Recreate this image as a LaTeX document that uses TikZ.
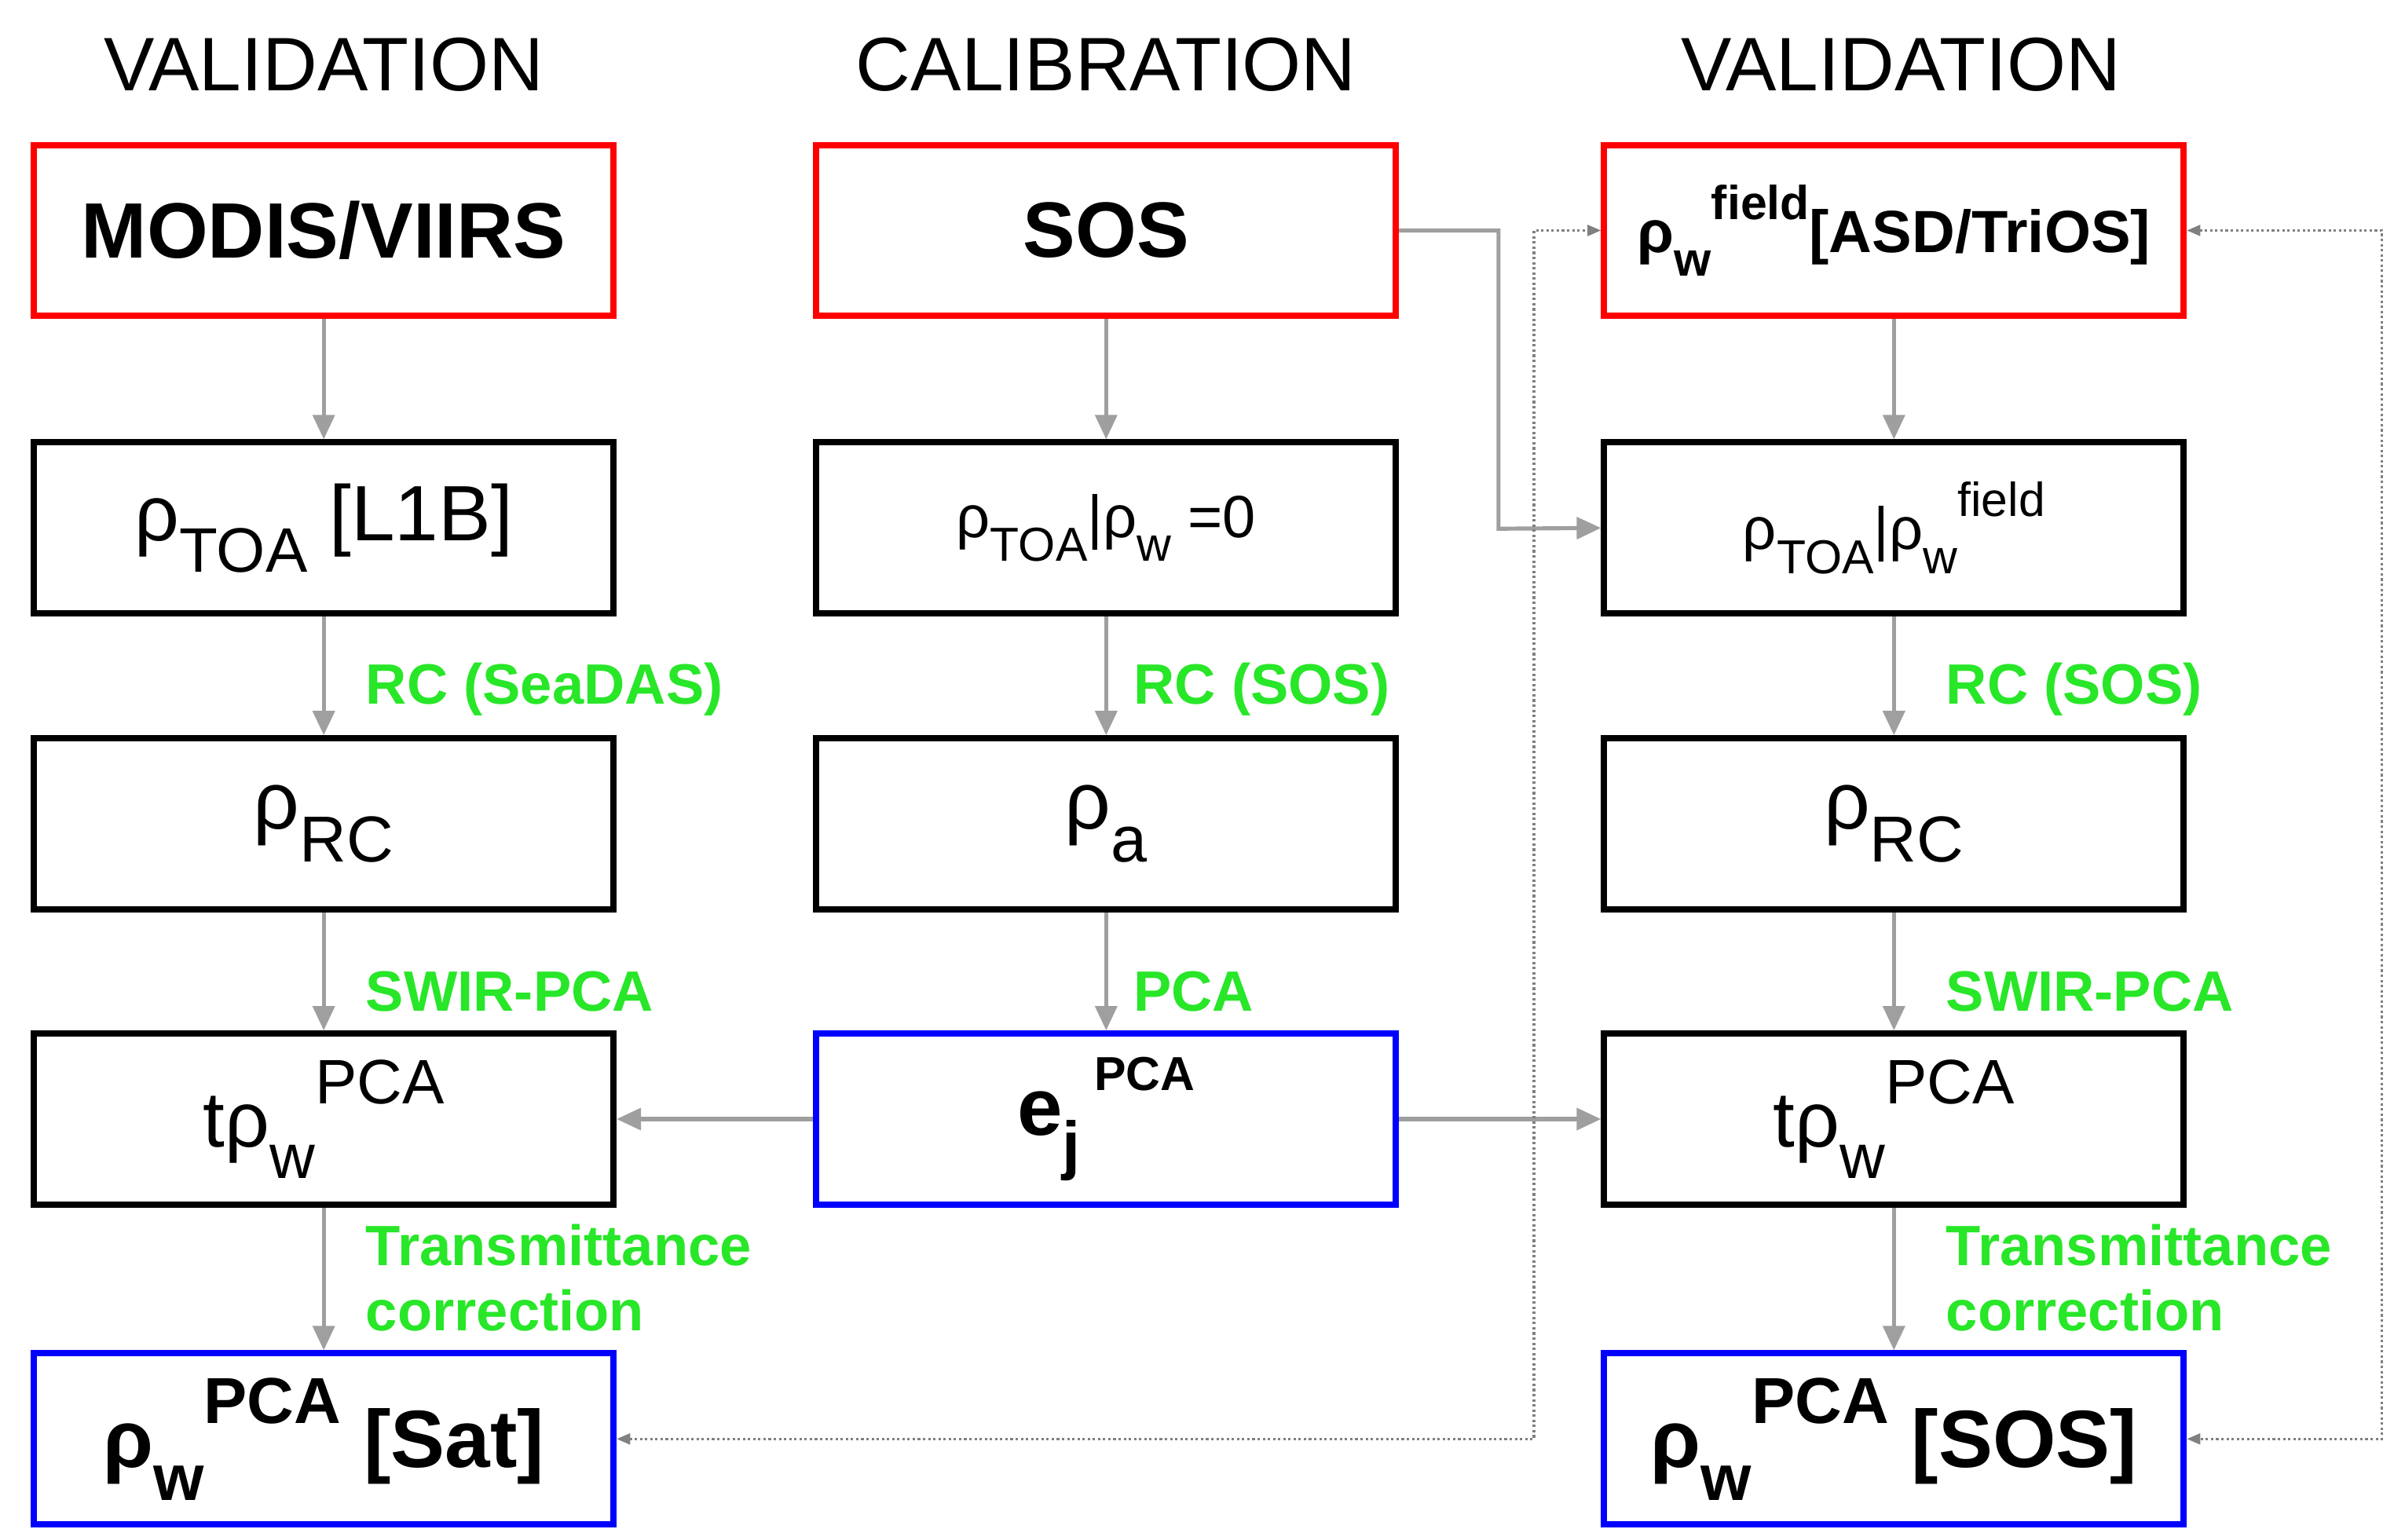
\documentclass[tikz,border=0pt]{standalone}
\usepackage{fontspec}
\setmainfont{Liberation Sans}
\usetikzlibrary{arrows.meta}
\newcommand\lo[1]{\raisebox{-0.4em}{\scalebox{0.8}{#1}}}
\newcommand\hi[1]{\raisebox{0.55em}{\scalebox{0.8}{#1}}}
\definecolor{lgreen}{RGB}{40,230,40}
\begin{document}
\begin{tikzpicture}[x=0.02cm,y=-0.02cm,
  box/.style={draw=#1,line width=2.3pt,minimum width=7.52cm,minimum height=2.22cm,inner sep=0pt},
  box/.default=black,
  arr/.style={draw=gray!75,line width=1.5pt,-{Triangle[length=9pt,width=8pt]}},
  dot/.style={draw=gray,densely dotted,line width=0.9pt,{Triangle[length=5pt,width=4pt]}-{Triangle[length=5pt,width=4pt]}},
  lab/.style={text=lgreen,font=\fontsize{21}{24}\selectfont\bfseries,anchor=west,inner sep=0pt,align=left},
  ttl/.style={font=\fontsize{28}{32}\selectfont}]
\useasboundingbox (0,0) rectangle (1560,998.6);
\node[ttl] (t1) at (210,42) {VALIDATION};
\node[ttl] (t2) at (717.5,42) {CALIBRATION};
\node[ttl] (t3) at (1233,42) {VALIDATION};
% column 1
\node[box=red,font=\fontsize{29}{32}\selectfont\bfseries] (a1) at (210,149.5) {MODIS/VIIRS};
\node[box,font=\fontsize{29}{32}\selectfont] (a2) at (210,342.5) {ρ\lo{TOA} [L1B]};
\node[box,font=\fontsize{30}{32}\selectfont] (a3) at (210,534.5) {ρ\lo{RC}};
\node[box,font=\fontsize{29}{32}\selectfont] (a4) at (210,726) {tρ\lo{w}\hi{PCA}};
\node[box=blue,font=\fontsize{30}{32}\selectfont\bfseries] (a5) at (210,933.5) {ρ\lo{w}\hi{PCA} [Sat]};
% column 2
\node[box=red,font=\fontsize{29}{32}\selectfont\bfseries] (b1) at (717.5,149.5) {SOS};
\node[box,font=\fontsize{22}{26}\selectfont] (b2) at (717.5,342.5) {ρ\lo{TOA}|ρ\lo{w} =0};
\node[box,font=\fontsize{30}{32}\selectfont] (b3) at (717.5,534.5) {ρ\lo{a}};
\node[box=blue,font=\fontsize{30}{32}\selectfont\bfseries] (b4) at (717.5,726) {e\lo{j}\,\hi{\fontsize{22}{24}\selectfont PCA}};
% column 3
\node[box=red,font=\fontsize{22}{26}\selectfont\bfseries] (c1) at (1228.5,149.5) {ρ\lo{w}\hi{field}[ASD/TriOS]};
\node[box,font=\fontsize{22}{26}\selectfont] (c2) at (1228.5,342.5) {ρ\lo{TOA}|ρ\lo{w}\hi{field}};
\node[box,font=\fontsize{30}{32}\selectfont] (c3) at (1228.5,534.5) {ρ\lo{RC}};
\node[box,font=\fontsize{29}{32}\selectfont] (c4) at (1228.5,726) {tρ\lo{w}\hi{PCA}};
\node[box=blue,font=\fontsize{30}{32}\selectfont\bfseries] (c5) at (1228.5,933.5) {ρ\lo{w}\hi{PCA} [SOS]};
% vertical arrows
\foreach \p/\q in {a1/a2,a2/a3,a3/a4,a4/a5,b1/b2,b2/b3,b3/b4,c1/c2,c2/c3,c3/c4,c4/c5}
  \draw[arr] (\p) -- (\q);
\draw[arr] (b4) -- (a4);
\draw[arr] (b4) -- (c4);
\draw[arr] (b1.east) -| (972,343) -- (c2.west);
% dotted
\draw[dot] (a5.east) -- (995,933.5) |- (c1.west);
\draw[dot] (c1.east) -- (1545,149.5) |- (c5.east);
% labels
\node[lab] (l1) at (237,447) {RC (SeaDAS)};
\node[lab] (l2) at (237,643) {SWIR-PCA};
\node[lab] (l3) at (237,829) {Transmittance\\correction};
\node[lab] (m1) at (735,447) {RC (SOS)};
\node[lab] (m2) at (735,643) {PCA};
\node[lab] (r1) at (1262,447) {RC (SOS)};
\node[lab] (r2) at (1262,643) {SWIR-PCA};
\node[lab] (r3) at (1262,829) {Transmittance\\correction};
\end{tikzpicture}
\end{document}
